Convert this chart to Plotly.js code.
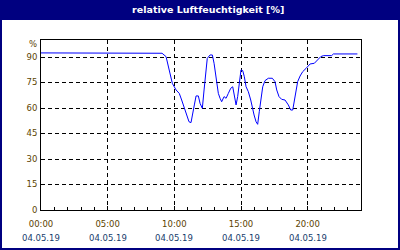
<!DOCTYPE html>
<html><head><meta charset="utf-8">
<script src="https://cdn.plot.ly/plotly-3.0.1.min.js"></script>
<style>body{margin:0;padding:0;background:#fff}#c{width:400px;height:250px}</style>
</head><body><div id="c"></div>
<script>
const hours = [0, 9.0, 9.08, 9.38, 9.55, 9.68, 9.85, 10.13, 10.37, 10.55, 10.75, 10.93, 11.1, 11.25, 11.38, 11.5, 11.63, 11.8, 11.93, 12.1, 12.23, 12.35, 12.47, 12.68, 12.85, 12.98, 13.13, 13.3, 13.43, 13.55, 13.73, 13.88, 14.05, 14.23, 14.38, 14.5, 14.63, 14.75, 14.88, 15.0, 15.13, 15.25, 15.38, 15.55, 15.73, 15.85, 15.98, 16.13, 16.25, 16.37, 16.5, 16.63, 16.8, 17.05, 17.35, 17.55, 17.68, 17.85, 18.05, 18.3, 18.55, 18.73, 18.88, 19.0, 19.13, 19.25, 19.43, 19.63, 19.88, 20.18, 20.5, 20.73, 20.98, 21.18, 21.8, 21.93, 23.73];
const humidity = [92.4, 92.4, 92.2, 90.2, 84.3, 79.4, 74.5, 70.6, 68.6, 64.7, 59.8, 55.9, 51.9, 51.4, 55.9, 61.8, 67.1, 67.1, 62.7, 59.8, 70.6, 80.4, 89.2, 91.2, 91.2, 86.3, 78.4, 68.6, 65.7, 63.7, 66.7, 65.7, 68.6, 71.6, 72.5, 67.6, 61.8, 66.7, 76.5, 82.4, 82.0, 78.4, 72.5, 69.6, 64.7, 59.8, 55.9, 51.9, 50.4, 57.8, 64.7, 72.5, 76.1, 77.5, 77.5, 75.5, 70.6, 66.7, 65.1, 64.7, 61.8, 58.8, 58.8, 64.7, 70.6, 75.5, 78.8, 81.4, 83.3, 85.9, 86.3, 88.2, 90.2, 90.8, 90.8, 91.8, 91.8];
const xTickVals = [0, 5, 10, 15, 20];
const xTimeLabels = ['00:00', '05:00', '10:00', '15:00', '20:00'];
const xDateLabels = ['04.05.19', '04.05.19', '04.05.19', '04.05.19', '04.05.19'];
const yTickVals = [0, 15, 30, 45, 60, 75, 90];
const titleText = 'relative Luftfeuchtigkeit [%]';
const unitLabel = '%';

const timeColor = '#5c4300', dateColor = '#183c6c';
const FONT = 'DejaVu Sans', FS = 8.5;

const L = 41, R = 361, T = 40, B = 210;
const px = v => (v - L) / (R - L);
const py = v => (B - v) / (B - T);

const dateAnnotations = xTickVals.map((v, i) => ({
  text: xDateLabels[i], xref: 'x', yref: 'paper', x: v, y: py(238), xanchor: 'center', yanchor: 'middle',
  showarrow: false, font: {family: FONT, size: FS, color: dateColor}
}));

const layout = {
  width: 400, height: 250,
  margin: {l: L, r: 400 - R, t: T, b: 250 - B, pad: 0},
  paper_bgcolor: '#ffffff', plot_bgcolor: '#ffffff',
  showlegend: false,
  font: {family: FONT, size: FS, color: timeColor},
  xaxis: {
    range: [0, 24], tickmode: 'array', tickvals: xTickVals, ticktext: xTimeLabels,
    showgrid: true, gridcolor: '#000', gridwidth: 1, griddash: '4px,3px',
    showline: true, linecolor: '#000', linewidth: 1, mirror: true,
    ticks: 'inside', ticklen: 4, tickcolor: '#000', ticklabelstandoff: 6,
    minor: {dtick: 1, ticks: 'inside', ticklen: 3, tickcolor: '#000', showgrid: false},
    zeroline: false, fixedrange: true,
    tickfont: {family: FONT, size: FS, color: timeColor}
  },
  yaxis: {
    range: [0, 100], tickmode: 'array', tickvals: yTickVals,
    showgrid: true, gridcolor: '#000', gridwidth: 1, griddash: '4px,3px',
    showline: true, linecolor: '#000', linewidth: 1, mirror: true,
    ticks: '', zeroline: false, fixedrange: true, ticklabelstandoff: 1,
    tickfont: {family: FONT, size: FS, color: timeColor}
  },
  title: {text: '<b>' + titleText + '</b>', font: {family: FONT, size: 9.5, color: '#ffffff'},
    x: 209 / 400, xanchor: 'center', xref: 'paper', y: 1 - 10 / 250, yanchor: 'middle', yref: 'container'},
  shapes: [
    {type: 'rect', xref: 'paper', yref: 'paper', x0: px(0), x1: px(400), y0: py(20), y1: py(0), fillcolor: '#000080', line: {width: 0}, layer: 'below'},
    {type: 'rect', xref: 'paper', yref: 'paper', x0: px(0), x1: px(2), y0: py(250), y1: py(0), fillcolor: '#000080', line: {width: 0}},
    {type: 'rect', xref: 'paper', yref: 'paper', x0: px(398), x1: px(400), y0: py(250), y1: py(0), fillcolor: '#000080', line: {width: 0}},
    {type: 'rect', xref: 'paper', yref: 'paper', x0: px(0), x1: px(400), y0: py(250), y1: py(248), fillcolor: '#000080', line: {width: 0}}
  ],
  annotations: [
    {text: unitLabel, xref: 'paper', yref: 'y', x: 0, y: 100, xanchor: 'right', yanchor: 'middle', xshift: -2, yshift: -4, showarrow: false,
     font: {family: FONT, size: FS, color: timeColor}}
  ].concat(dateAnnotations)
};
const data = [{x: hours, y: humidity, type: 'scatter', mode: 'lines', line: {color: '#0000ff', width: 1}, hoverinfo: 'skip'}];
Plotly.newPlot('c', data, layout, {staticPlot: true, displayModeBar: false});
</script></body></html>
